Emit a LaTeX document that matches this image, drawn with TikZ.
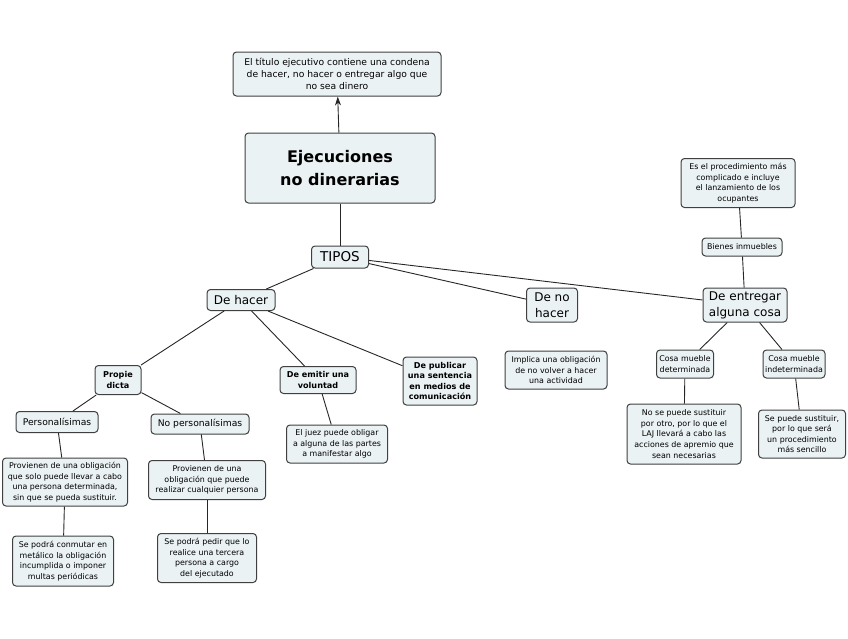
\documentclass[tikz,border=0pt]{standalone}
\usepackage{fontspec}
\setmainfont{DejaVu Sans}
\usetikzlibrary{arrows.meta}
\definecolor{boxfill}{HTML}{EBF2F4}
\definecolor{boxline}{HTML}{404040}
\tikzset{
  cbox/.style={draw=boxline, fill=boxfill, rounded corners=3.5pt, align=center, inner sep=1pt, line width=1pt},
  fs/.style={font=\fontsize{7.9}{10.6}\selectfont},
  fsb/.style={font=\fontsize{8.1}{10.6}\selectfont\bfseries},
  fm/.style={font=\fontsize{9.2}{11.8}\selectfont},
  fl/.style={font=\fontsize{12}{16}\selectfont},
  edge/.style={draw=black!85, line width=0.9pt},
}
\begin{document}
\begin{tikzpicture}[x=1pt,y=-1pt]
\useasboundingbox (0,0) rectangle (848,638);
\node[cbox,fm,minimum width=208,minimum height=44] (top) at (337,74) {El título ejecutivo contiene una condena\\de hacer, no hacer o entregar algo que\\no sea dinero};
\node[cbox,font=\fontsize{16}{23}\selectfont\bfseries,minimum width=190,minimum height=70] (main) at (340,168) {Ejecuciones\\no dinerarias};
\node[cbox,font=\fontsize{13.5}{16}\selectfont,minimum width=57,minimum height=22] (tipos) at (340,257) {TIPOS};
\node[cbox,fl,minimum width=68,minimum height=21] (hacer) at (241,300) {De hacer};
\node[cbox,fl,minimum width=51,minimum height=34] (nohacer) at (552,305) {De no\\hacer};
\node[cbox,fl,minimum width=84,minimum height=34] (entregar) at (745,305) {De entregar\\alguna cosa};
\node[cbox,fs,minimum width=80,minimum height=18] (bienes) at (742,247) {Bienes inmuebles};
\node[cbox,fs,minimum width=114,minimum height=49] (proc) at (738,183) {Es el procedimiento más\\complicado e incluye\\el lanzamiento de los\\ocupantes};
\node[cbox,fs,minimum width=102,minimum height=38] (implica) at (556,370) {Implica una obligación\\de no volver a hacer\\una actividad};
\node[cbox,fs,minimum width=57,minimum height=28] (det) at (685,364) {Cosa mueble\\determinada};
\node[cbox,fs,minimum width=62,minimum height=28] (indet) at (794,364) {Cosa mueble\\indeterminada};
\node[cbox,fs,minimum width=114,minimum height=60] (nosust) at (684,434) {No se puede sustituir\\por otro, por lo que el\\LAJ llevará a cabo las\\acciones de apremio que\\sean necesarias};
\node[cbox,fs,minimum width=87,minimum height=48] (sust) at (802,434) {Se puede sustituir,\\por lo que será\\un procedimiento\\más sencillo};
\node[cbox,fsb,minimum width=46,minimum height=29] (propie) at (118,380) {Propie\\dicta};
\node[cbox,fsb,minimum width=76,minimum height=27] (emitir) at (318,380) {De emitir una\\voluntad};
\node[cbox,fsb,minimum width=74,minimum height=48] (publicar) at (440,381) {De publicar\\una sentencia\\en medios de\\comunicación};
\node[cbox,fm,minimum width=82,minimum height=21] (pers) at (57,422) {Personalísimas};
\node[cbox,fm,minimum width=98,minimum height=20] (nopers) at (200,424) {No personalísimas};
\node[cbox,fs,minimum width=125,minimum height=48] (prov1) at (65,482) {Provienen de una obligación\\que solo puede llevar a cabo\\una persona determinada,\\sin que se pueda sustituir.};
\node[cbox,fs,minimum width=117,minimum height=39] (prov2) at (207,480) {Provienen de una\\obligación que puede\\realizar cualquier persona};
\node[cbox,fs,minimum width=101,minimum height=50] (conm) at (63,561) {Se podrá conmutar en\\metálico la obligación\\incumplida o imponer\\multas periódicas};
\node[cbox,fs,minimum width=99,minimum height=49] (pedir) at (207,558) {Se podrá pedir que lo\\realice una tercera\\persona a cargo\\del ejecutado};
\node[cbox,fs,minimum width=101,minimum height=38] (juez) at (337,444) {El juez puede obligar\\a alguna de las partes\\a manifestar algo};

\draw[edge,-{Stealth[length=9pt,width=6pt]}] (main) -- (top);
\draw[edge] (main) -- (tipos);
\draw[edge] (tipos) -- (hacer);
\draw[edge] (tipos) -- (nohacer);
\draw[edge] (tipos) -- (entregar);
\draw[edge] (entregar) -- (bienes);
\draw[edge] (bienes) -- (proc);
\draw[edge] (entregar) -- (det);
\draw[edge] (entregar) -- (indet);
\draw[edge] (det) -- (nosust);
\draw[edge] (indet) -- (sust);
\draw[edge] (hacer) -- (propie);
\draw[edge] (hacer) -- (emitir);
\draw[edge] (hacer) -- (publicar);
\draw[edge] (propie) -- (pers);
\draw[edge] (propie) -- (nopers);
\draw[edge] (pers) -- (prov1);
\draw[edge] (prov1) -- (conm);
\draw[edge] (nopers) -- (prov2);
\draw[edge] (prov2) -- (pedir);
\draw[edge] (emitir) -- (juez);
\end{tikzpicture}
\end{document}
